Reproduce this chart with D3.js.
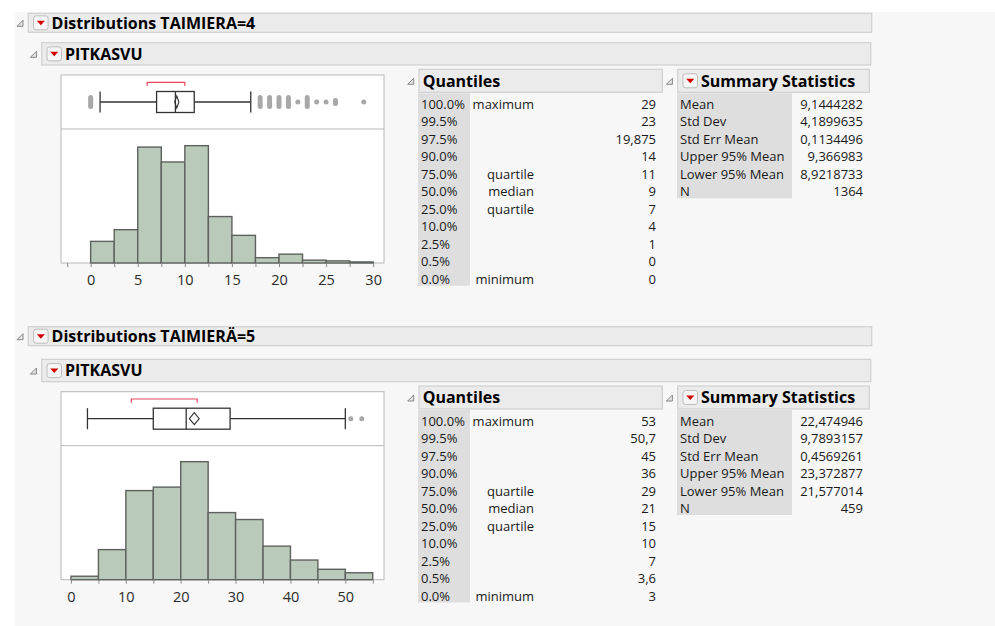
<!DOCTYPE html>
<html>
<head>
<meta charset="utf-8">
<script src="https://cdn.jsdelivr.net/npm/d3@7"></script>
<style>
  body { margin: 0; background: #fff; }
  text { font-family: "Open Sans", sans-serif; }
</style>
</head>
<body>
<svg id="chart" width="995" height="626"></svg>
<script>
// ── Data ───────────────────────────────────────────────────────────────────

const quantileLevels = ['100.0%', '99.5%', '97.5%', '90.0%', '75.0%', '50.0%', '25.0%', '10.0%', '2.5%', '0.5%', '0.0%'];
const quantileNames  = ['maximum', '', '', '', 'quartile', 'median', 'quartile', '', '', '', 'minimum'];
const summaryLabels  = ['Mean', 'Std Dev', 'Std Err Mean', 'Upper 95% Mean', 'Lower 95% Mean', 'N'];

// TAIMIERA = 4
const quantiles4 = ['29', '23', '19,875', '14', '11', '9', '7', '4', '1', '0', '0'];
const summary4   = ['9,1444282', '4,1899635', '0,1134496', '9,366983', '8,9218733', '1364'];
const binEdges4  = [0, 2.5, 5, 7.5, 10, 12.5, 15, 17.5, 20, 22.5, 25, 27.5, 30];
const counts4    = [61, 94, 327, 285, 331, 131, 78, 15, 25, 8, 6, 3];
const box4       = [1, 7, 9, 11, 17];              // low whisker, q1, median, q3, high whisker
const mean4      = [8.9218733, 9.1444282, 9.366983]; // lower 95%, mean, upper 95%
const shortHalf4 = [6, 10];
const outliers4  = [0, 18, 19, 20, 21, 22, 23, 24, 25, 26, 29];
const outlierN4  = [20, 10, 5, 13, 11, 1, 7, 1, 1, 2, 1];
const majorTicks4 = [0, 5, 10, 15, 20, 25, 30];
const minorTicks4 = [-2.5, 2.5, 7.5, 12.5, 17.5, 22.5, 27.5];

// TAIMIERÄ = 5
const quantiles5 = ['53', '50,7', '45', '36', '29', '21', '15', '10', '7', '3,6', '3'];
const summary5   = ['22,474946', '9,7893157', '0,4569261', '23,372877', '21,577014', '459'];
const binEdges5  = [0, 5, 10, 15, 20, 25, 30, 35, 40, 45, 50, 55];
const counts5    = [3, 26, 77, 80, 102, 58, 52, 29, 17, 9, 6];
const box5       = [3, 15, 21, 29, 50];
const mean5      = [21.577014, 22.474946, 23.372877];
const shortHalf5 = [11, 23];
const outliers5  = [51, 53];
const outlierN5  = [1, 1];
const majorTicks5 = [0, 10, 20, 30, 40, 50];
const minorTicks5 = [5, 15, 25, 35, 45, 55];

const sections = [
  { title: 'Distributions TAIMIERA=4', headerY: 13.3, offset: 0,
    xDomain: [-3.15, 31.15], yMax: 378,
    quantiles: quantiles4, summary: summary4, edges: binEdges4, counts: counts4,
    box: box4, mean: mean4, shortHalf: shortHalf4, outliers: outliers4, outlierN: outlierN4,
    major: majorTicks4, minor: minorTicks4 },
  { title: 'Distributions TAIMIERÄ=5', headerY: 326.7, offset: 316.7,
    xDomain: [-1.82, 57.05], yMax: 115.8,
    quantiles: quantiles5, summary: summary5, edges: binEdges5, counts: counts5,
    box: box5, mean: mean5, shortHalf: shortHalf5, outliers: outliers5, outlierN: outlierN5,
    major: majorTicks5, minor: minorTicks5 }
];

// ── Setup ──────────────────────────────────────────────────────────────────

const svg = d3.select('#chart');
const TEXT = '#1a1a1a';

svg.append('rect')
  .attr('x', 15).attr('y', 12).attr('width', 980).attr('height', 614)
  .attr('fill', '#f7f7f7');

// ── Helpers ────────────────────────────────────────────────────────────────

function disclosure(g, x, cy) {
  g.append('path')
    .attr('d', `M${x},${cy + 3.5} L${x + 6},${cy + 3.5} L${x + 6},${cy - 2.5} Z`)
    .attr('fill', '#e4e4e4').attr('stroke', '#7a7a7a').attr('stroke-width', 0.9);
}

function redButton(g, x, cy) {
  g.append('rect')
    .attr('x', x).attr('y', cy - 7).attr('width', 14.5).attr('height', 14)
    .attr('rx', 2.5).attr('fill', '#f6f6f6').attr('stroke', '#bdbdbd');
  g.append('path')
    .attr('d', `M${x + 3.2},${cy - 2} L${x + 11.3},${cy - 2} L${x + 7.25},${cy + 2.5} Z`)
    .attr('fill', '#d40000');
}

function header(g, x, y, w, h, label, button) {
  const cy = y + h / 2;
  g.append('rect')
    .attr('x', x).attr('y', y).attr('width', w).attr('height', h)
    .attr('fill', '#ebebeb').attr('stroke', '#d0d0d0').attr('stroke-width', 1.2);
  disclosure(g, x - 11.3, cy);
  if (button) redButton(g, x + 5.3, cy);
  g.append('text')
    .attr('x', button ? x + 23.3 : x + 3.7).attr('y', cy + 5.8)
    .attr('font-size', 16).attr('font-weight', 700).attr('fill', '#000')
    .text(label);
}

// ── Section render ─────────────────────────────────────────────────────────

function drawSection(s) {
  const g = svg.append('g');
  const b = s.offset;

  header(g, 28.3, s.headerY, 843.4, 19, s.title, true);
  header(g, 41.7, 42.7 + b, 829, 22.3, 'PITKASVU', true);

  // plot frame
  const top = 75 + b, div = 129 + b, bot = 263 + b;
  const x = d3.scaleLinear().domain(s.xDomain).range([61, 384]);
  const y = d3.scaleLinear().domain([0, s.yMax]).range([bot, div]);

  g.append('rect')
    .attr('x', 61).attr('y', top).attr('width', 323).attr('height', bot - top)
    .attr('fill', '#fff').attr('stroke', '#b8b8b8');
  g.append('line')
    .attr('x1', 61).attr('x2', 384).attr('y1', div).attr('y2', div)
    .attr('stroke', '#b8b8b8');

  // histogram
  g.append('g').selectAll('rect')
    .data(s.counts)
    .join('rect')
    .attr('x', (d, i) => x(s.edges[i]))
    .attr('width', (d, i) => x(s.edges[i + 1]) - x(s.edges[i]))
    .attr('y', d => y(d))
    .attr('height', d => y(0) - y(d))
    .attr('fill', '#b9c9ba')
    .attr('stroke', '#5e625e')
    .attr('stroke-width', 1.4);

  // axes
  const major = g.append('g')
    .attr('transform', `translate(0,${bot})`)
    .call(d3.axisBottom(x).tickValues(s.major).tickSize(4).tickPadding(8).tickFormat(d3.format('d')));
  const minor = g.append('g')
    .attr('transform', `translate(0,${bot})`)
    .call(d3.axisBottom(x).tickValues(s.minor).tickSize(4).tickFormat(''));
  [major, minor].forEach(a => {
    a.select('.domain').remove();
    a.selectAll('line').attr('stroke', '#8c8c8c');
  });
  major.selectAll('text')
    .attr('font-family', '"Open Sans", sans-serif')
    .attr('font-size', 14.5).attr('fill', '#2a2a2a');

  // box plot
  const cy = 102 + b, hh = 10.5;
  const [lo, q1, med, q3, hi] = s.box;
  const bx = g.append('g').attr('stroke', '#333').attr('stroke-width', 1.3).attr('fill', 'none');
  bx.append('line').attr('x1', x(lo)).attr('x2', x(q1)).attr('y1', cy).attr('y2', cy);
  bx.append('line').attr('x1', x(q3)).attr('x2', x(hi)).attr('y1', cy).attr('y2', cy);
  [lo, hi].forEach(v => bx.append('line')
    .attr('x1', x(v)).attr('x2', x(v)).attr('y1', cy - hh).attr('y2', cy + hh));
  bx.append('rect')
    .attr('x', x(q1)).attr('y', cy - hh).attr('width', x(q3) - x(q1)).attr('height', 2 * hh)
    .attr('fill', '#fff');
  bx.append('line').attr('x1', x(med)).attr('x2', x(med)).attr('y1', cy - hh).attr('y2', cy + hh);

  const [lcl, mean, ucl] = s.mean;
  bx.append('path')
    .attr('d', `M${x(lcl)},${cy} L${x(mean)},${cy - 6} L${x(ucl)},${cy} L${x(mean)},${cy + 6} Z`)
    .attr('stroke-width', 1.1);

  // shortest half bracket
  g.append('path')
    .attr('d', `M${x(s.shortHalf[0])},${top + 11} V${top + 7.3} H${x(s.shortHalf[1])} V${top + 11}`)
    .attr('fill', 'none').attr('stroke', '#ee4660').attr('stroke-width', 1.2);

  // outliers: stacked points drawn as a short vertical run
  g.append('g').selectAll('line')
    .data(s.outliers)
    .join('line')
    .attr('x1', d => x(d)).attr('x2', d => x(d))
    .attr('y1', (d, i) => cy - Math.min(4.5, (s.outlierN[i] - 1) * 1.5))
    .attr('y2', (d, i) => cy + Math.min(4.5, (s.outlierN[i] - 1) * 1.5) + 0.01)
    .attr('stroke', '#a8a8a8').attr('stroke-width', 5).attr('stroke-linecap', 'round');

  // quantiles table
  header(g, 419, 69.3 + b, 243.3, 23, 'Quantiles', false);
  const rowTop = 93.3 + b, rowH = 17.5;
  g.append('rect')
    .attr('x', 418).attr('y', rowTop).attr('width', 52).attr('height', rowH * quantileLevels.length)
    .attr('fill', '#dedede');
  const qt = g.append('g').attr('font-size', 13).attr('fill', TEXT);
  qt.selectAll('text.lvl').data(quantileLevels).join('text').attr('class', 'lvl')
    .attr('x', 421).attr('y', (d, i) => rowTop + i * rowH + 15.5).text(d => d);
  qt.selectAll('text.nm').data(quantileNames).join('text').attr('class', 'nm')
    .attr('x', 534).attr('text-anchor', 'end')
    .attr('y', (d, i) => rowTop + i * rowH + 15.5).text(d => d);
  qt.selectAll('text.val').data(s.quantiles).join('text').attr('class', 'val')
    .attr('x', 656).attr('text-anchor', 'end')
    .attr('y', (d, i) => rowTop + i * rowH + 15.5).text(d => d);

  // summary statistics table
  header(g, 677.7, 69.3 + b, 191.6, 23, 'Summary Statistics', true);
  g.append('rect')
    .attr('x', 677).attr('y', rowTop).attr('width', 115).attr('height', rowH * summaryLabels.length)
    .attr('fill', '#dedede');
  const st = g.append('g').attr('font-size', 13).attr('fill', TEXT);
  st.selectAll('text.lbl').data(summaryLabels).join('text').attr('class', 'lbl')
    .attr('x', 680).attr('y', (d, i) => rowTop + i * rowH + 15.5).text(d => d);
  st.selectAll('text.val').data(s.summary).join('text').attr('class', 'val')
    .attr('x', 863).attr('text-anchor', 'end')
    .attr('y', (d, i) => rowTop + i * rowH + 15.5).text(d => d);
}

sections.forEach(drawSection);
</script>
</body>
</html>
